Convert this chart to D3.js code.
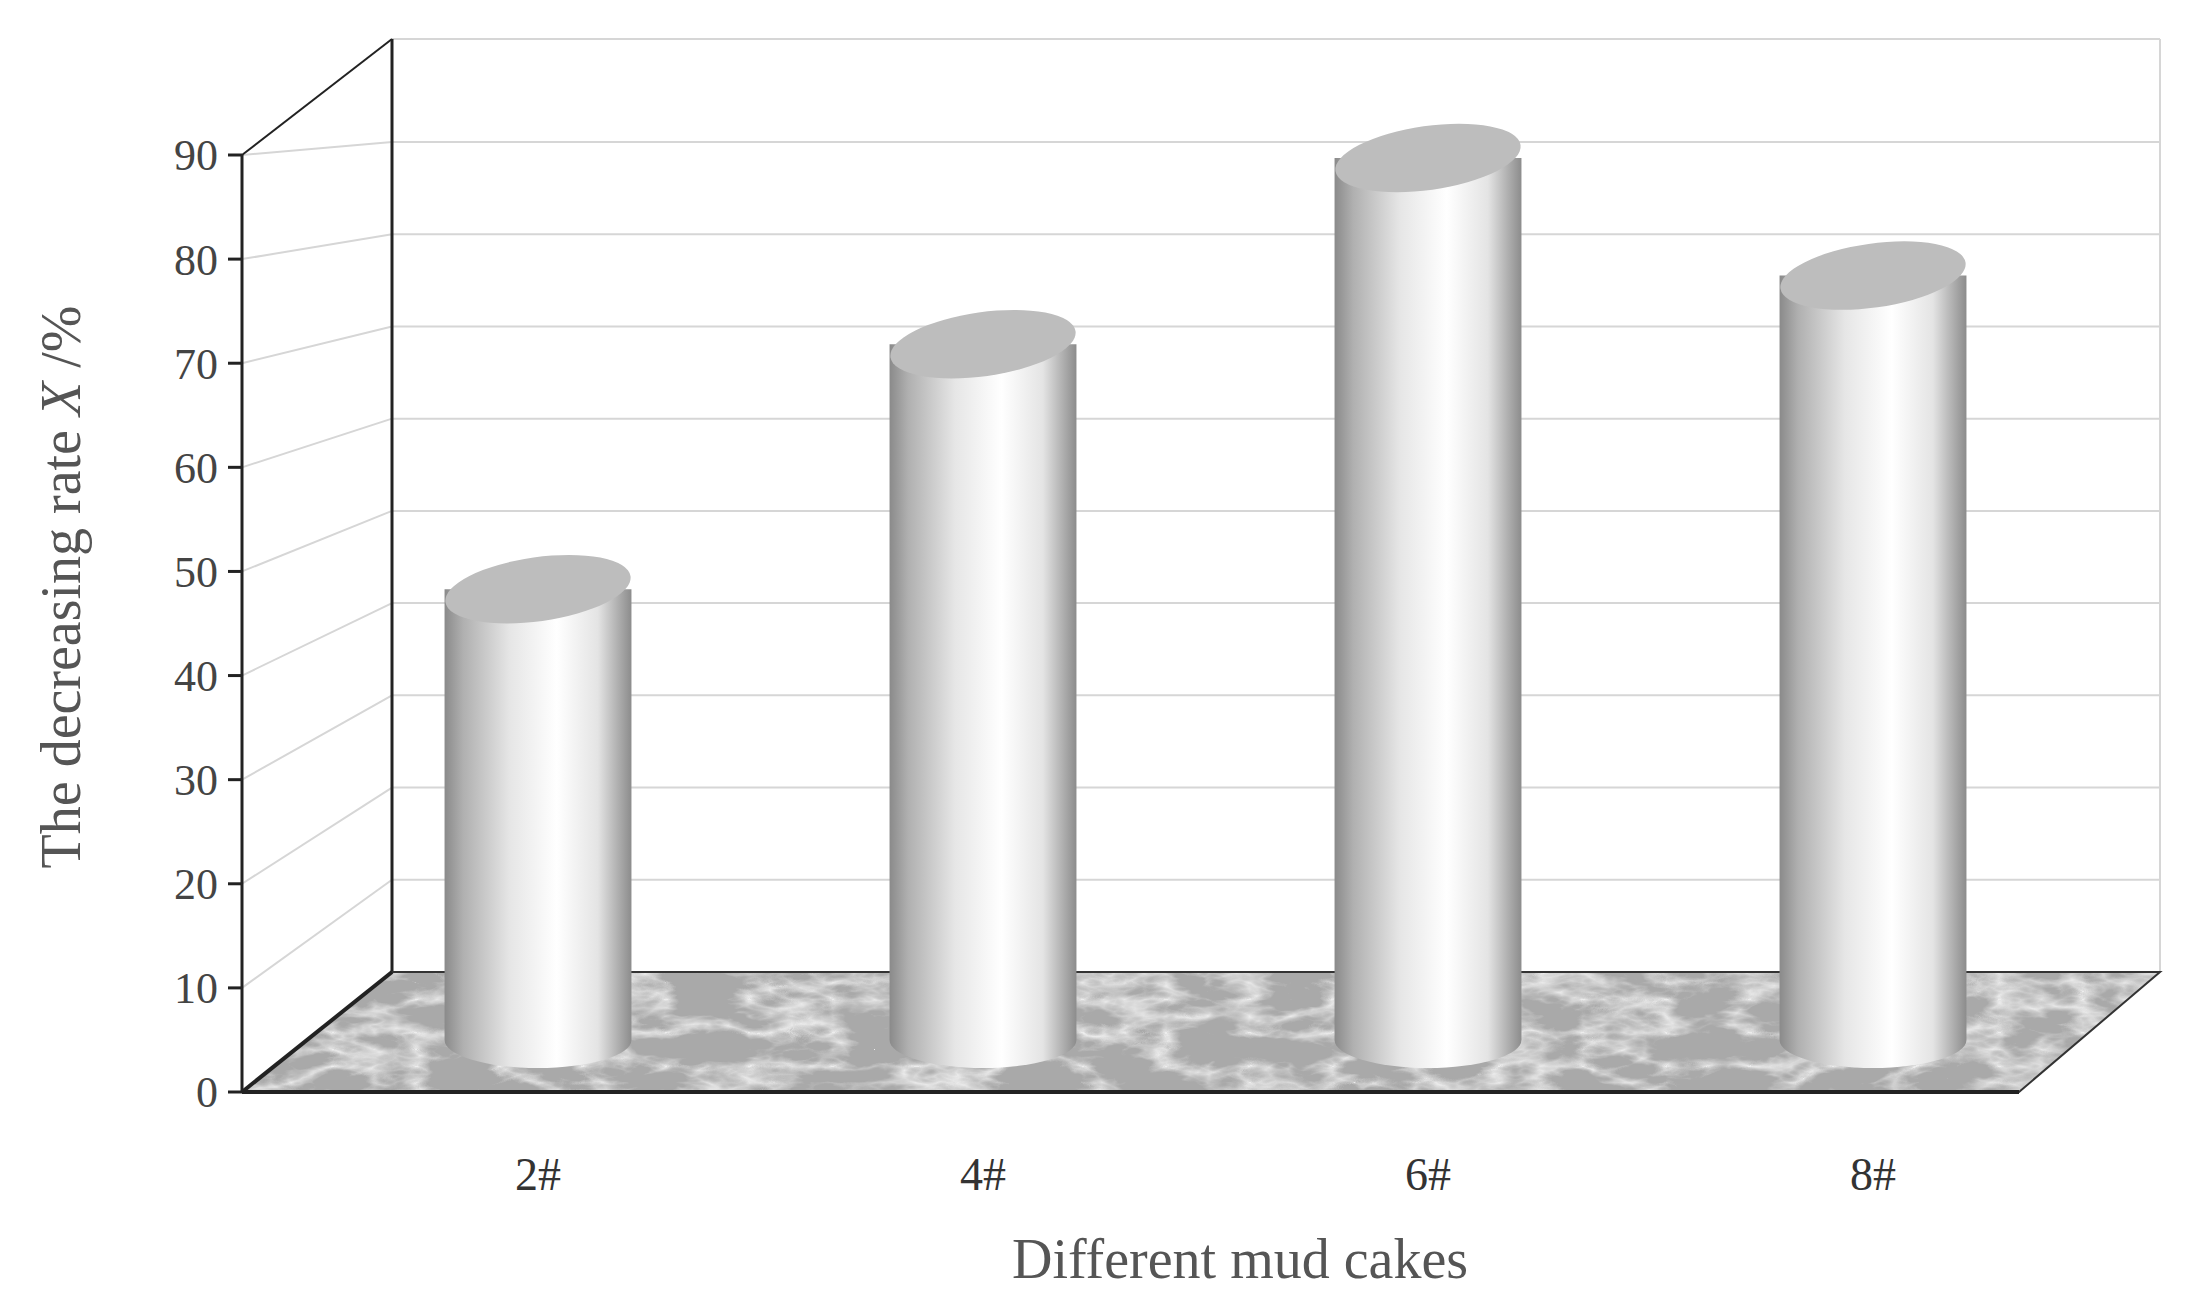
<!DOCTYPE html><html><head><meta charset="utf-8"><script src="https://cdn.jsdelivr.net/npm/d3@7"></script>
<style>body{margin:0;background:#fff}</style></head><body><svg id="c" width="2197" height="1309"></svg>
<script>
const categories=["2#","4#","6#","8#"];
const values=[46,71,90,78];
const yTicks=[0,10,20,30,40,50,60,70,80,90];
const xTitle="Different mud cakes";
const svg=d3.select("#c");
const defs=svg.append("defs");
const frontY=d3.scaleLinear().domain([0,90]).range([1092,155]);
const backY=d3.scaleLinear().domain([0,90]).range([972,142]);
const midY=d3.scaleLinear().domain([0,90]).range([1040,158]);
const fx0=242,bx0=392,bx1=2160,fx1=2019;
const x=d3.scaleBand().domain(categories).range([315.5,2095.5]).paddingInner(0.58).paddingOuter(0.29);
// marble
const f=defs.append("filter").attr("id","marble").attr("x",0).attr("y",0).attr("width",1).attr("height",1);
f.append("feTurbulence").attr("type","turbulence").attr("baseFrequency","0.012 0.03").attr("numOctaves",4).attr("seed",7).attr("result","t");
f.append("feColorMatrix").attr("in","t").attr("type","matrix").attr("values","0 0 0 0 0.95  0 0 0 0 0.95  0 0 0 0 0.95  -2.2 0 0 0 0.85").attr("result","m");
f.append("feComposite").attr("in","m").attr("in2","SourceGraphic").attr("operator","in");
const g=defs.append("linearGradient").attr("id","cyl");
[[0,"#8a8a8a"],[0.1,"#b0b0b0"],[0.35,"#e6e6e6"],[0.6,"#ffffff"],[0.82,"#e4e4e4"],[1,"#8c8c8c"]].forEach(s=>g.append("stop").attr("offset",s[0]).attr("stop-color",s[1]));
// gridlines
const grid=svg.append("g").attr("stroke","#d6d6d6").attr("stroke-width",2);
yTicks.filter(v=>v>0).forEach(v=>{
 grid.append("line").attr("x1",bx0).attr("x2",bx1).attr("y1",backY(v)).attr("y2",backY(v));
 grid.append("line").attr("x1",fx0).attr("x2",bx0).attr("y1",frontY(v)).attr("y2",backY(v));
});
svg.append("line").attr("x1",bx0).attr("x2",bx1).attr("y1",39).attr("y2",39).attr("stroke","#d6d6d6").attr("stroke-width",2);
svg.append("line").attr("x1",bx1).attr("x2",bx1).attr("y1",39).attr("y2",972).attr("stroke","#d6d6d6").attr("stroke-width",2);
svg.append("line").attr("x1",bx0).attr("x2",bx0).attr("y1",39).attr("y2",972).attr("stroke","#222").attr("stroke-width",3);
svg.append("line").attr("x1",fx0).attr("x2",bx0).attr("y1",frontY(90)).attr("y2",39).attr("stroke","#222").attr("stroke-width",2);
// floor
const fl=[[fx0,1092],[bx0,972],[bx1,972],[fx1,1092]];
svg.append("polygon").attr("points",fl.join(" ")).attr("fill","#a9a9a9");
svg.append("polygon").attr("points",fl.join(" ")).attr("fill","#bbb").attr("filter","url(#marble)");
svg.append("polygon").attr("points",fl.join(" ")).attr("fill","none").attr("stroke","#333").attr("stroke-width",2);
svg.append("line").attr("x1",fx0).attr("x2",bx0).attr("y1",1092).attr("y2",972).attr("stroke","#222").attr("stroke-width",4);
svg.append("line").attr("x1",fx0).attr("x2",fx1).attr("y1",1092).attr("y2",1092).attr("stroke","#222").attr("stroke-width",4);
svg.append("line").attr("x1",fx0).attr("x2",fx0).attr("y1",frontY(90)).attr("y2",1092).attr("stroke","#222").attr("stroke-width",3);
const ax=svg.append("g");
yTicks.forEach(v=>{
 ax.append("line").attr("x1",fx0-14).attr("x2",fx0).attr("y1",frontY(v)).attr("y2",frontY(v)).attr("stroke","#222").attr("stroke-width",3);
 ax.append("text").attr("x",fx0-24).attr("y",frontY(v)).attr("dy","0.35em").attr("text-anchor","end").attr("font-family","Liberation Serif").attr("font-size",44).attr("fill","#444").text(v);
});
const rx=x.bandwidth()/2, ry=28, bottom=1040;
categories.forEach((c,i)=>{
 const cx=x(c)+rx, top=midY(values[i]);
 const gg=svg.append("g");
 gg.append("path").attr("d",`M${cx-rx},${top} L${cx-rx},${bottom} A${rx},${ry} 0 0 0 ${cx+rx},${bottom} L${cx+rx},${top} Z`).attr("fill","url(#cyl)");
 gg.append("ellipse").attr("cx",cx).attr("cy",top).attr("rx",rx).attr("ry",ry+4).attr("transform",`rotate(-8,${cx},${top})`).attr("fill","#bdbdbd");
 svg.append("text").attr("x",cx).attr("y",1190).attr("text-anchor","middle").attr("font-family","Liberation Serif").attr("font-size",46).attr("fill","#333").text(c);
});
svg.append("text").attr("x",1240).attr("y",1278).attr("text-anchor","middle").attr("font-family","Liberation Serif").attr("font-size",56).attr("fill","#555").text(xTitle);
const yl=svg.append("text").attr("transform","translate(80,587) rotate(-90)").attr("text-anchor","middle").attr("font-family","Liberation Serif").attr("font-size",56).attr("fill","#555");
yl.append("tspan").text("The decreasing rate ");
yl.append("tspan").attr("font-style","italic").text("X");
yl.append("tspan").text(" /%");
</script></body></html>
